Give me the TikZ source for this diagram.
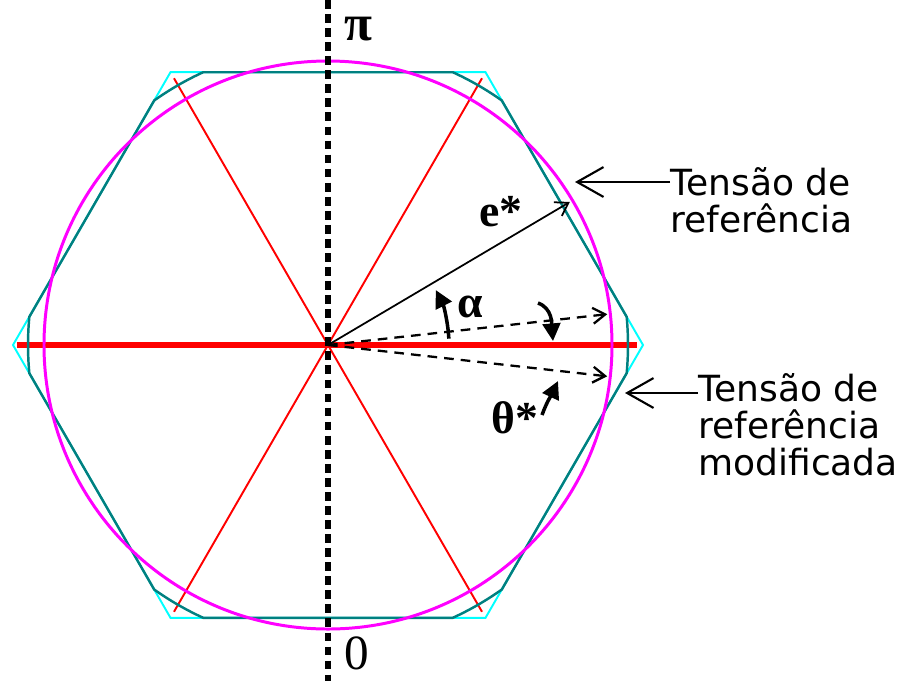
\documentclass[tikz,border=0pt]{standalone}
\usepackage{fontspec}
\setmainfont{Liberation Serif}
\newfontfamily\labelfont{DejaVu Sans}
\usetikzlibrary{arrows.meta,positioning,calc}
\definecolor{refcircle}{HTML}{FF00FF}
\definecolor{hexcyan}{HTML}{00FFFF}
\definecolor{modteal}{HTML}{008080}
\definecolor{sectorred}{HTML}{FF0000}

\begin{document}
\begin{tikzpicture}[
  x=0.02cm,y=0.02cm,
  hexagon/.style={draw=hexcyan,line width=1.1pt},
  modref/.style={draw=modteal,line width=1.4pt},
  refcirc/.style={draw=refcircle,line width=1.7pt},
  sector/.style={draw=sectorred,line width=1.1pt},
  mainaxis/.style={draw=sectorred,line width=3.4pt},
  piaxis/.style={draw=black,line width=3.5pt,dash pattern=on 5pt off 3pt},
  vec/.style={-{Straight Barb[length=7pt,width=9pt]},draw=black,line width=1pt},
  dashvec/.style={vec,line width=1.3pt,dash pattern=on 5.5pt off 4pt},
  curvearrow/.style={-{Triangle[length=10pt,width=10pt]},draw=black,line width=2pt},
  callout/.style={-{Straight Barb[length=15pt,width=17pt]},draw=black,line width=1.2pt},
  sym/.style={font=\fontsize{26}{26}\selectfont\bfseries,inner sep=0pt},
  caption/.style={font=\labelfont\fontsize{20.5}{21}\selectfont,align=left,inner sep=0pt}
]
\useasboundingbox (-328,-336) rectangle (580,345);

\coordinate (origin) at (0,0);

% sectors
\foreach \a in {60,120}
  \draw[sector] (\a:308) -- (\a+180:308);
\draw[mainaxis] (180:311) -- (0:309);

% hexagon, modified reference and reference circle
\draw[hexagon] (0:315) foreach \k in {1,...,5} { -- (\k*60:315) } -- cycle;
\draw[modref] (-5.4:300) foreach \k in {0,...,5} {
  arc[start angle=\k*60-5.4,end angle=\k*60+5.4,radius=300]
  -- ({\k*60+54.6}:300) } -- cycle;
\draw[refcirc] (origin) circle[radius=284];

\draw[piaxis] (0,345) -- (0,-336);

% vectors
\coordinate (estar) at (30.6:281);
\coordinate (upper) at (6.3:281);
\coordinate (lower) at (-6.4:281);
\draw[vec] (origin) -- (estar);
\draw[dashvec] (origin) -- (upper);
\draw[dashvec] (origin) -- (lower);

\coordinate (alphastart) at (3:121);
\coordinate (hookstart) at (210,42);
\coordinate (hookend) at (225,4);
\coordinate (thetastart) at (214,-70);
\coordinate (thetaend) at (230,-36);
\draw[curvearrow] (alphastart) arc[start angle=3,end angle=27,radius=121];
\draw[curvearrow] (hookstart) to[out=-20,in=95] (hookend);
\draw[curvearrow] (thetastart) to[out=70,in=-115] (thetaend);

\node[sym,font=\fontsize{29}{29}\selectfont\bfseries] (pilabel) at (30,316) {π};
\node[sym,font=\fontsize{28}{28}\selectfont] (zerolabel) at (29,-308) {0};
\node[sym] (elabel) at (173,133) {e*};
\node[sym] (alphalabel) at (142,38) {α};
\node[sym] (thetalabel) at (187,-73) {θ*};

% captions
\node[caption,anchor=base west] (reftext) at (342,113) {Tensão de\\referência};
\coordinate (reftip) at (247,163);
\draw[callout] (reftext.west |- reftip) -- (reftip);

\node[caption,anchor=base west] (modtext) at (370,-130) {Tensão de\\referência\\modificada};
\coordinate (modtip) at (297,-48);
\draw[callout] (modtext.west |- modtip) -- (modtip);

\end{tikzpicture}
\end{document}
